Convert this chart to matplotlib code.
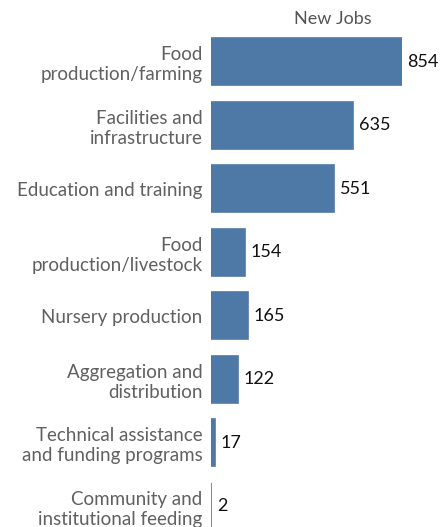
import matplotlib.pyplot as plt

# Data
categories = ['Food\nproduction/farming', 'Facilities and\ninfrastructure',
              'Education and training', 'Food\nproduction/livestock',
              'Nursery production', 'Aggregation and\ndistribution',
              'Technical assistance\nand funding programs',
              'Community and\ninstitutional feeding']
new_jobs = [854, 635, 551, 154, 165, 122, 17, 2]

plt.rcParams['font.family'] = ['Lato', 'DejaVu Sans']

fig = plt.figure(figsize=(4.4, 5.27), dpi=100)
# axes extends slightly past the bottom so the last bar is cut off like the original
ax = fig.add_axes([211 / 440, 1 - 538 / 527, 191 / 440, 508 / 527])

y = list(range(len(categories)))
ax.barh(y, new_jobs, height=0.74, color='#4e79a7', edgecolor='#4e79a7', linewidth=1.2)
ax.set_ylim(len(categories) - 0.5, -0.5)
ax.set_xlim(0, max(new_jobs))

for yi, v in zip(y, new_jobs):
    ax.annotate(str(v), (v, yi), xytext=(4, 0), textcoords='offset points',
                va='center', ha='left', fontsize=13, color='#111111',
                annotation_clip=False)

ax.set_yticks(y)
ax.set_yticklabels(categories, fontsize=13.5, color='#606060')
ax.tick_params(axis='y', length=0, pad=6)
ax.set_xticks([])
for s in ax.spines.values():
    s.set_visible(False)

fig.text(333 / 440, 1 - 19 / 527, 'New Jobs', ha='center', va='center',
         fontsize=13, color='#555555')

fig.savefig('out.png', dpi=100)
